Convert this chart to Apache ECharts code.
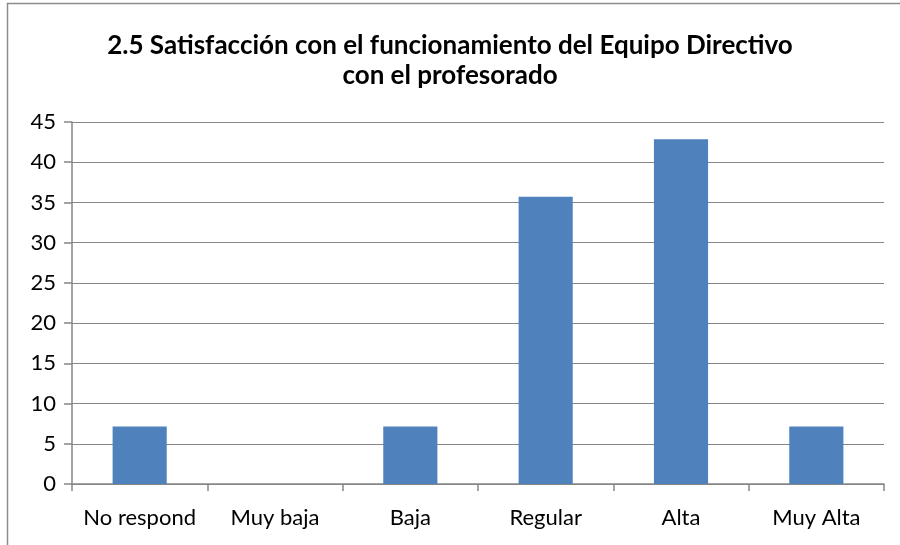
<!DOCTYPE html>
<html>
<head>
<meta charset="utf-8">
<script src="https://cdn.jsdelivr.net/npm/echarts@6/dist/echarts.min.js"></script>
<style>
html, body { margin: 0; padding: 0; background: #fff; }
#chart { width: 900px; height: 545px; }
</style>
</head>
<body>
<div id="chart"></div>
<script>
// categorias y valores (%)
const categories = ['No respond', 'Muy baja', 'Baja', 'Regular', 'Alta', 'Muy Alta']
const values = [7.14, 0, 7.14, 35.71, 42.86, 7.14]
const yTicks = { min: 0, max: 45, interval: 5 }

const font = 'Lato, "Open Sans", sans-serif'
const axisGrey = '#868686'

const chart = echarts.init(document.getElementById('chart'))
chart.setOption({
    animation: false,
    title: {
        text: '2.5 Satisfacción con el funcionamiento del Equipo Directivo\ncon el profesorado',
        left: 'center',
        top: 26,
        textStyle: {
            fontFamily: font,
            fontSize: 26,
            fontWeight: 'bold',
            color: '#000',
            lineHeight: 30
        }
    },
    graphic: [{
        type: 'rect',
        shape: { x: 7.5, y: 3.5, width: 910, height: 560 },
        style: { fill: 'none', stroke: '#8c8c8c', lineWidth: 1.5 },
        silent: true
    }],
    grid: {
        left: 72,
        right: 16,
        top: 122,
        bottom: 61
    },
    xAxis: {
        type: 'category',
        data: categories,
        axisLine: { lineStyle: { color: axisGrey, width: 1.5 } },
        axisTick: { show: true, length: 7, lineStyle: { color: axisGrey, width: 1.5 } },
        axisLabel: {
            interval: 0,
            color: '#000',
            fontFamily: font,
            fontSize: 22,
            margin: 23
        }
    },
    yAxis: {
        type: 'value',
        min: yTicks.min,
        max: yTicks.max,
        interval: yTicks.interval,
        axisLine: { show: true, lineStyle: { color: axisGrey, width: 1.5 } },
        axisTick: { show: true, length: 8, lineStyle: { color: axisGrey, width: 1.5 } },
        splitLine: { lineStyle: { color: axisGrey, width: 1 } },
        axisLabel: {
            color: '#000',
            fontFamily: font,
            fontSize: 22,
            margin: 16
        }
    },
    series: [{
        type: 'bar',
        data: values,
        barWidth: '40%',
        itemStyle: { color: '#4f81bd' }
    }]
})
</script>
</body>
</html>
